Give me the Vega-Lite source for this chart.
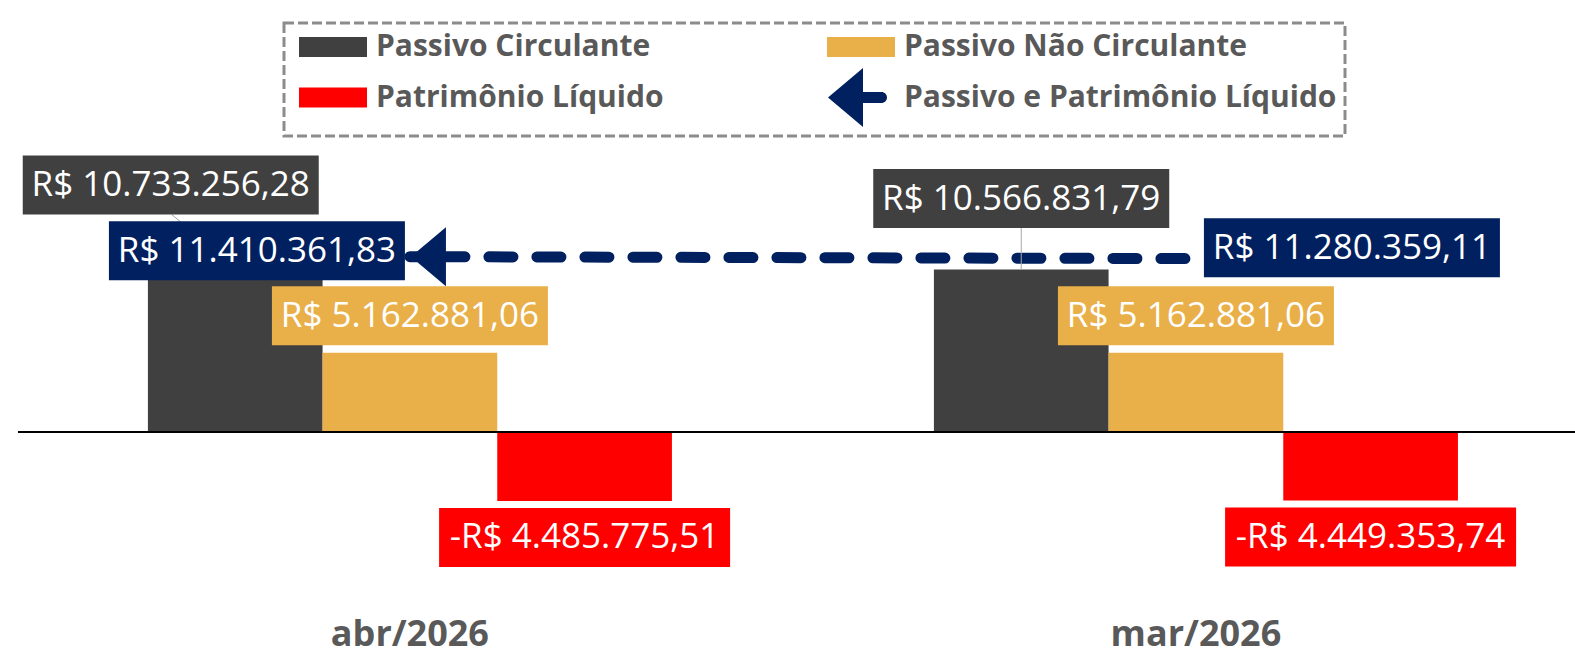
{
  "$schema": "https://vega.github.io/schema/vega-lite/v6.json",
  "width": 1557,
  "height": 460,
  "autosize": {"type": "none"},
  "padding": {"left": 18, "top": 140, "right": 0, "bottom": 56},
  "background": "white",
  "config": {
    "view": {"stroke": null},
    "locale": {"number": {"decimal": ",", "thousands": ".", "grouping": [3], "currency": ["R$ ", ""], "minus": "-"}}
  },
  "data": {
    "values": [
      {"mes": "abr/2026", "serie": "Passivo Circulante", "valor": 10733256.28},
      {"mes": "abr/2026", "serie": "Passivo Não Circulante", "valor": 5162881.06},
      {"mes": "abr/2026", "serie": "Patrimônio Líquido", "valor": -4485775.51},
      {"mes": "abr/2026", "serie": "Passivo e Patrimônio Líquido", "valor": 11410361.83},
      {"mes": "mar/2026", "serie": "Passivo Circulante", "valor": 10566831.79},
      {"mes": "mar/2026", "serie": "Passivo Não Circulante", "valor": 5162881.06},
      {"mes": "mar/2026", "serie": "Patrimônio Líquido", "valor": -4449353.74},
      {"mes": "mar/2026", "serie": "Passivo e Patrimônio Líquido", "valor": 11280359.11}
    ]
  },
  "encoding": {
    "x": {
      "field": "mes", "type": "nominal", "sort": ["abr/2026", "mar/2026"],
      "scale": {"paddingInner": 0.3333, "paddingOuter": 0.1571, "align": 0.526},
      "axis": {"title": null, "domain": false, "ticks": false, "tickSize": 0, "grid": false, "labelAngle": 0,
               "labelFont": "Open Sans", "labelFontSize": 36, "labelFontWeight": "bold", "labelColor": "#595959",
               "labelPadding": 45, "labelBaseline": "alphabetic"}
    },
    "y": {"field": "valor", "type": "quantitative", "scale": {"domain": [-10930000, 19000000], "nice": false, "zero": false}, "axis": null}
  },
  "layer": [
    {
      "transform": [{"filter": "datum.serie !== 'Passivo e Patrimônio Líquido'"}],
      "mark": {"type": "bar"},
      "encoding": {
        "xOffset": {"field": "serie", "type": "nominal", "scale": {"domain": ["Passivo Circulante", "Passivo Não Circulante", "Patrimônio Líquido"], "paddingInner": 0, "paddingOuter": 0}},
        "color": {
          "field": "serie", "type": "nominal",
          "scale": {"domain": ["Passivo Circulante", "Passivo Não Circulante", "Patrimônio Líquido", "Passivo e Patrimônio Líquido"],
                    "range": ["#404040", "#E9AF48", "#FF0000", "#002060"]},
          "legend": {
            "title": null, "orient": "none", "legendX": 266, "legendY": -117, "direction": "horizontal", "columns": 2,
            "columnPadding": 156, "rowPadding": 5.5, "padding": 8, "strokeColor": "#8C8C8C",
            "symbolSize": 1024, "symbolOffset": 25, "labelOffset": 27, "symbolStrokeWidth": 0, "symbolOpacity": 1,
            "labelFont": "Open Sans", "labelFontSize": 30, "labelFontWeight": "bold", "labelColor": "#595959", "labelLimit": 700, "labelBaseline": "middle",
            "encode": {
              "legend": {"update": {"strokeDash": {"value": [10, 4]}, "strokeWidth": {"value": 3}}},
              "symbols": {"update": {"shape": {"signal": "datum.value === 'Passivo e Patrimônio Líquido' ? 'M-2.0625,0L0.125,-1.844L0.125,-0.344L1.281,-0.344A0.344,0.344,0,0,1,1.281,0.344L0.125,0.344L0.125,1.844Z' : 'M-2.125,-0.625L2.125,-0.625L2.125,0.625L-2.125,0.625Z'"}}}
            }
          }
        }
      }
    },
    {
      "mark": {"type": "rule", "color": "#000000", "strokeWidth": 2},
      "encoding": {"y": {"datum": 0}, "x": null}
    },
    {
      "transform": [{"filter": "datum.serie === 'Passivo e Patrimônio Líquido'"}],
      "mark": {"type": "line", "stroke": "#002060", "strokeWidth": 11, "strokeDash": [24, 24], "strokeDashOffset": 17, "strokeCap": "round"}
    },
    {
      "transform": [{"filter": "datum.serie === 'Passivo e Patrimônio Líquido' && datum.mes === 'abr/2026'"}],
      "mark": {"type": "point", "shape": "M1,0L36,-29.5L36,29.5Z", "size": 4, "filled": true, "fill": "#002060", "opacity": 1, "strokeWidth": 0}
    },
    {
      "transform": [{"filter": "datum.serie === 'Passivo Circulante'"}],
      "mark": {"type": "point", "shape": {"expr": "datum.mes === 'abr/2026' ? 'M0,0L-63.5,-52.5' : 'M0,0L0,-41.5'"}, "size": 4, "filled": false, "stroke": "#A6A6A6", "strokeWidth": 1, "opacity": 1},
      "encoding": {"xOffset": {"field": "serie", "type": "nominal", "scale": {"domain": ["Passivo Circulante", "Passivo Não Circulante", "Patrimônio Líquido"], "paddingInner": 0, "paddingOuter": 0}}}
    },
    {
      "transform": [{"filter": "datum.serie === 'Passivo Circulante'"}],
      "mark": {"type": "point", "shape": {"expr": "datum.mes === 'abr/2026' ? 'M-212.5,-111.5L83.5,-111.5L83.5,-52.5L-212.5,-52.5Z' : 'M-148,-100.5L148,-100.5L148,-41.5L-148,-41.5Z'"}, "size": 4, "filled": true, "fill": "#404040", "opacity": 1, "strokeWidth": 0},
      "encoding": {"xOffset": {"field": "serie", "type": "nominal", "scale": {"domain": ["Passivo Circulante", "Passivo Não Circulante", "Patrimônio Líquido"], "paddingInner": 0, "paddingOuter": 0}}}
    },
    {
      "transform": [{"filter": "datum.serie === 'Passivo Circulante'"}],
      "mark": {"type": "text", "font": "Open Sans", "fontSize": 35, "color": "#FFFFFF", "align": "center", "baseline": "middle",
               "dx": {"expr": "datum.mes === 'abr/2026' ? -64.5 : 0"}, "dy": {"expr": "datum.mes === 'abr/2026' ? -82 : -71"}},
      "encoding": {
        "xOffset": {"field": "serie", "type": "nominal", "scale": {"domain": ["Passivo Circulante", "Passivo Não Circulante", "Patrimônio Líquido"], "paddingInner": 0, "paddingOuter": 0}},
        "text": {"field": "valor", "type": "quantitative", "format": "$,.2f"}
      }
    },
    {
      "transform": [{"filter": "datum.serie === 'Passivo Não Circulante'"}],
      "mark": {"type": "point", "shape": "M-138,-66.5L138,-66.5L138,-7.5L-138,-7.5Z", "size": 4, "filled": true, "fill": "#E9AF48", "opacity": 1, "strokeWidth": 0},
      "encoding": {"xOffset": {"field": "serie", "type": "nominal", "scale": {"domain": ["Passivo Circulante", "Passivo Não Circulante", "Patrimônio Líquido"], "paddingInner": 0, "paddingOuter": 0}}}
    },
    {
      "transform": [{"filter": "datum.serie === 'Passivo Não Circulante'"}],
      "mark": {"type": "text", "font": "Open Sans", "fontSize": 35, "color": "#FFFFFF", "align": "center", "baseline": "middle", "dy": -37},
      "encoding": {
        "xOffset": {"field": "serie", "type": "nominal", "scale": {"domain": ["Passivo Circulante", "Passivo Não Circulante", "Patrimônio Líquido"], "paddingInner": 0, "paddingOuter": 0}},
        "text": {"field": "valor", "type": "quantitative", "format": "$,.2f"}
      }
    },
    {
      "transform": [{"filter": "datum.serie === 'Patrimônio Líquido'"}],
      "mark": {"type": "point", "shape": "M-145.5,7L145.5,7L145.5,66L-145.5,66Z", "size": 4, "filled": true, "fill": "#FF0000", "opacity": 1, "strokeWidth": 0},
      "encoding": {"xOffset": {"field": "serie", "type": "nominal", "scale": {"domain": ["Passivo Circulante", "Passivo Não Circulante", "Patrimônio Líquido"], "paddingInner": 0, "paddingOuter": 0}}}
    },
    {
      "transform": [{"filter": "datum.serie === 'Patrimônio Líquido'"}],
      "mark": {"type": "text", "font": "Open Sans", "fontSize": 35, "color": "#FFFFFF", "align": "center", "baseline": "middle", "dy": 36.5},
      "encoding": {
        "xOffset": {"field": "serie", "type": "nominal", "scale": {"domain": ["Passivo Circulante", "Passivo Não Circulante", "Patrimônio Líquido"], "paddingInner": 0, "paddingOuter": 0}},
        "text": {"field": "valor", "type": "quantitative", "format": "$,.2f"}
      }
    },
    {
      "transform": [{"filter": "datum.serie === 'Passivo e Patrimônio Líquido'"}],
      "mark": {"type": "point", "shape": {"expr": "datum.mes === 'abr/2026' ? 'M-301,-35.5L-5,-35.5L-5,23.5L-301,23.5Z' : 'M8,-40.5L304,-40.5L304,18.5L8,18.5Z'"}, "size": 4, "filled": true, "fill": "#002060", "opacity": 1, "strokeWidth": 0}
    },
    {
      "transform": [{"filter": "datum.serie === 'Passivo e Patrimônio Líquido'"}],
      "mark": {"type": "text", "font": "Open Sans", "fontSize": 35, "color": "#FFFFFF", "align": "center", "baseline": "middle",
               "dx": {"expr": "datum.mes === 'abr/2026' ? -153 : 156"}, "dy": {"expr": "datum.mes === 'abr/2026' ? -6 : -11"}},
      "encoding": {"text": {"field": "valor", "type": "quantitative", "format": "$,.2f"}}
    }
  ]
}
